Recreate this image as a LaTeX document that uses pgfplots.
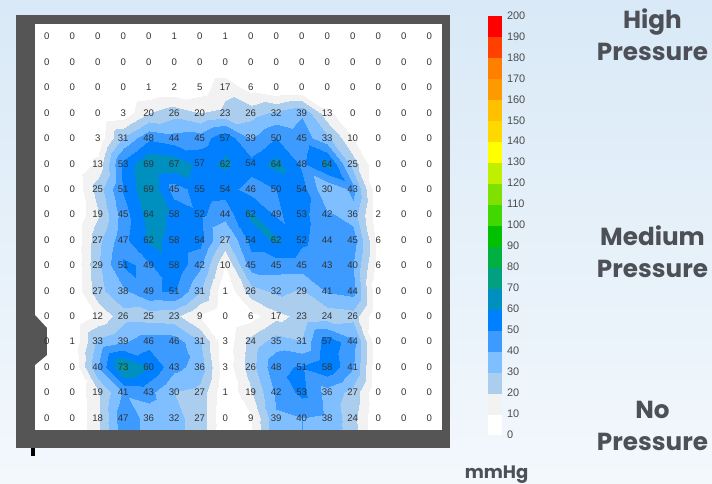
\documentclass[border=0pt]{standalone}
\usepackage{fontspec}
\setmainfont{Liberation Sans}
\newfontfamily\headfont{Poppins}
\usepackage{pgfplots}
\usepackage{pgfplotstable}
\pgfplotsset{compat=1.18}

\definecolor{framegray}{HTML}{555555}
\definecolor{headgray}{HTML}{4D5056}
\definecolor{bgtop}{HTML}{D9E9F7}
\definecolor{bgbottom}{HTML}{F3F8FC}

% pressure samples, row by row from the top of the map; y=-0.48 repeats the last row down to the panel edge
\pgfplotstableread[row sep=\\]{
x y z\\
0 15 0\\ 1 15 0\\ 2 15 0\\ 3 15 0\\ 4 15 0\\ 5 15 1\\ 6 15 0\\ 7 15 1\\ 8 15 0\\ 9 15 0\\ 10 15 0\\ 11 15 0\\ 12 15 0\\ 13 15 0\\ 14 15 0\\ 15 15 0\\
0 14 0\\ 1 14 0\\ 2 14 0\\ 3 14 0\\ 4 14 0\\ 5 14 0\\ 6 14 0\\ 7 14 0\\ 8 14 0\\ 9 14 0\\ 10 14 0\\ 11 14 0\\ 12 14 0\\ 13 14 0\\ 14 14 0\\ 15 14 0\\
0 13 0\\ 1 13 0\\ 2 13 0\\ 3 13 0\\ 4 13 1\\ 5 13 2\\ 6 13 5\\ 7 13 17\\ 8 13 6\\ 9 13 0\\ 10 13 0\\ 11 13 0\\ 12 13 0\\ 13 13 0\\ 14 13 0\\ 15 13 0\\
0 12 0\\ 1 12 0\\ 2 12 0\\ 3 12 3\\ 4 12 20\\ 5 12 26\\ 6 12 20\\ 7 12 23\\ 8 12 26\\ 9 12 32\\ 10 12 39\\ 11 12 13\\ 12 12 0\\ 13 12 0\\ 14 12 0\\ 15 12 0\\
0 11 0\\ 1 11 0\\ 2 11 3\\ 3 11 31\\ 4 11 48\\ 5 11 44\\ 6 11 45\\ 7 11 57\\ 8 11 39\\ 9 11 50\\ 10 11 45\\ 11 11 33\\ 12 11 10\\ 13 11 0\\ 14 11 0\\ 15 11 0\\
0 10 0\\ 1 10 0\\ 2 10 13\\ 3 10 53\\ 4 10 69\\ 5 10 67\\ 6 10 57\\ 7 10 62\\ 8 10 54\\ 9 10 64\\ 10 10 48\\ 11 10 64\\ 12 10 25\\ 13 10 0\\ 14 10 0\\ 15 10 0\\
0 9 0\\ 1 9 0\\ 2 9 25\\ 3 9 51\\ 4 9 69\\ 5 9 45\\ 6 9 55\\ 7 9 54\\ 8 9 46\\ 9 9 50\\ 10 9 54\\ 11 9 30\\ 12 9 43\\ 13 9 0\\ 14 9 0\\ 15 9 0\\
0 8 0\\ 1 8 0\\ 2 8 19\\ 3 8 45\\ 4 8 64\\ 5 8 58\\ 6 8 52\\ 7 8 44\\ 8 8 62\\ 9 8 49\\ 10 8 53\\ 11 8 42\\ 12 8 36\\ 13 8 2\\ 14 8 0\\ 15 8 0\\
0 7 0\\ 1 7 0\\ 2 7 27\\ 3 7 47\\ 4 7 62\\ 5 7 58\\ 6 7 54\\ 7 7 27\\ 8 7 54\\ 9 7 62\\ 10 7 52\\ 11 7 44\\ 12 7 45\\ 13 7 6\\ 14 7 0\\ 15 7 0\\
0 6 0\\ 1 6 0\\ 2 6 29\\ 3 6 51\\ 4 6 49\\ 5 6 58\\ 6 6 42\\ 7 6 10\\ 8 6 45\\ 9 6 45\\ 10 6 45\\ 11 6 43\\ 12 6 40\\ 13 6 6\\ 14 6 0\\ 15 6 0\\
0 5 0\\ 1 5 0\\ 2 5 27\\ 3 5 38\\ 4 5 49\\ 5 5 51\\ 6 5 31\\ 7 5 1\\ 8 5 26\\ 9 5 32\\ 10 5 29\\ 11 5 41\\ 12 5 44\\ 13 5 0\\ 14 5 0\\ 15 5 0\\
0 4 0\\ 1 4 0\\ 2 4 12\\ 3 4 26\\ 4 4 25\\ 5 4 23\\ 6 4 9\\ 7 4 0\\ 8 4 6\\ 9 4 17\\ 10 4 23\\ 11 4 24\\ 12 4 26\\ 13 4 0\\ 14 4 0\\ 15 4 0\\
0 3 0\\ 1 3 1\\ 2 3 33\\ 3 3 39\\ 4 3 46\\ 5 3 46\\ 6 3 31\\ 7 3 3\\ 8 3 24\\ 9 3 35\\ 10 3 31\\ 11 3 57\\ 12 3 44\\ 13 3 0\\ 14 3 0\\ 15 3 0\\
0 2 0\\ 1 2 0\\ 2 2 40\\ 3 2 73\\ 4 2 60\\ 5 2 43\\ 6 2 36\\ 7 2 3\\ 8 2 26\\ 9 2 48\\ 10 2 51\\ 11 2 58\\ 12 2 41\\ 13 2 0\\ 14 2 0\\ 15 2 0\\
0 1 0\\ 1 1 0\\ 2 1 19\\ 3 1 41\\ 4 1 43\\ 5 1 30\\ 6 1 27\\ 7 1 1\\ 8 1 19\\ 9 1 42\\ 10 1 53\\ 11 1 36\\ 12 1 27\\ 13 1 0\\ 14 1 0\\ 15 1 0\\
0 0 0\\ 1 0 0\\ 2 0 18\\ 3 0 47\\ 4 0 36\\ 5 0 32\\ 6 0 27\\ 7 0 0\\ 8 0 9\\ 9 0 39\\ 10 0 40\\ 11 0 38\\ 12 0 24\\ 13 0 0\\ 14 0 0\\ 15 0 0\\
0 -0.48 0\\ 1 -0.48 0\\ 2 -0.48 18\\ 3 -0.48 47\\ 4 -0.48 36\\ 5 -0.48 32\\ 6 -0.48 27\\ 7 -0.48 0\\ 8 -0.48 9\\ 9 -0.48 39\\ 10 -0.48 40\\ 11 -0.48 38\\ 12 -0.48 24\\ 13 -0.48 0\\ 14 -0.48 0\\ 15 -0.48 0\\
}\pressure

\pgfplotsset{
  colormap={mmhg}{
    rgb255=(255,255,255) rgb255=(242,242,242) rgb255=(171,205,238) rgb255=(127,191,255)
    rgb255=(61,154,255) rgb255=(0,128,255) rgb255=(0,144,192) rgb255=(0,160,128)
    rgb255=(0,176,64) rgb255=(0,192,0) rgb255=(64,216,0) rgb255=(128,224,0)
    rgb255=(192,240,0) rgb255=(255,255,0) rgb255=(255,216,0) rgb255=(255,192,0)
    rgb255=(255,153,0) rgb255=(255,128,0) rgb255=(255,64,0) rgb255=(255,0,0)
  },
}

\begin{document}
\begin{tikzpicture}[x=0.75pt,y=0.75pt]
% background and frame, coordinates in reference pixels counted from the bottom
\shade[top color=bgtop, bottom color=bgbottom] (0,0) rectangle (712,484);
\useasboundingbox (0,0) rectangle (712,484);
\fill[framegray] (16,36) rectangle (450,469);
\fill[white] (34.7,54) rectangle (441.7,460);
\fill[framegray] (35,169) -- (47,156) -- (47,129) -- (35,119) -- cycle;
\fill[black] (31,28) rectangle (34.5,36);

\begin{axis}[
    at={(26.03pt,40.5pt)}, anchor=south west,
    scale only axis,
    width=305.25pt, height=304.5pt,
    hide axis,
    view={0}{90},
    xmin=-0.47, xmax=15.49,
    ymin=-0.48, ymax=15.5,
    point meta min=0, point meta max=200,
    colormap name=mmhg,
    colormap access=piecewise constant,
    colorbar,
    colorbar style={
        at={(1.1138,-0.0111)}, anchor=south west,
        width=9.75pt, height=314.25pt,
        ytick={0,10,...,200},
        major tick length=0pt,
        yticklabel style={font=\fontsize{8.2}{9}\selectfont, text=black!70, xshift=1pt,
            /pgf/number format/assume math mode=true},
        axis line style={draw=none},
    },
]
\addplot3[surf, shader=interp, mesh/rows=17, mesh/cols=16]
    table[x=x, y=y, z=z] {\pressure};
\addplot[only marks, mark=none, restrict y to domain=-0.1:16,
    point meta=explicit symbolic,
    nodes near coords,
    nodes near coords style={anchor=center, inner sep=0pt, text=black!80,
        font=\fontsize{7.2}{8}\selectfont}]
    table[x=x, y=y, meta=z] {\pressure};
\end{axis}

\begin{scope}[every node/.style={font=\headfont\bfseries\fontsize{18.5}{20}\selectfont, text=headgray, anchor=base}]
\node at (652.5,455) {High};
\node at (652.5,423.5) {Pressure};
\node at (652.5,238) {Medium};
\node at (652.5,206.5) {Pressure};
\node at (652.5,65) {No};
\node at (652.5,33.5) {Pressure};
\end{scope}
\node[font=\headfont\bfseries\fontsize{13.5}{15}\selectfont, text=headgray, anchor=base] at (496.5,5.5) {mmHg};
\end{tikzpicture}
\end{document}
